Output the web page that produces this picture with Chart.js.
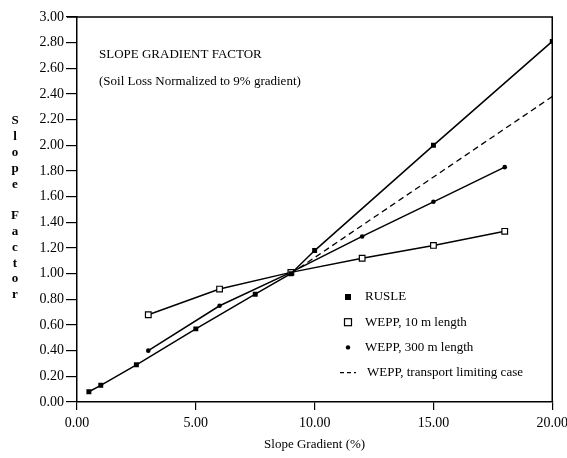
<!DOCTYPE html>
<html><head><meta charset="utf-8">
<script src="https://cdn.jsdelivr.net/npm/chart.js@4"></script>
<style>html,body{margin:0;padding:0;background:#fff;overflow:hidden}#wrap{width:567px;height:458px;position:relative;overflow:hidden}</style>
</head><body><div id="wrap"><canvas id="c" width="573" height="458"></canvas></div>
<script>
const rusleX = [0.5, 1, 2.5, 5, 7.5, 9, 10, 15, 20];
const rusleY = [0.08, 0.13, 0.29, 0.57, 0.84, 1.00, 1.18, 2.00, 2.81];
const wepp10X = [3, 6, 9, 12, 15, 18];
const wepp10Y = [0.68, 0.88, 1.01, 1.12, 1.22, 1.33];
const wepp300X = [3, 6, 9, 12, 15, 18];
const wepp300Y = [0.40, 0.75, 1.01, 1.29, 1.56, 1.83];
const transX = [9, 20];
const transY = [1.00, 2.38];
const xTicks = [0, 5, 10, 15, 20];
const yTicks = [0, 0.2, 0.4, 0.6, 0.8, 1.0, 1.2, 1.4, 1.6, 1.8, 2.0, 2.2, 2.4, 2.6, 2.8, 3.0];
const seriesNames = ['RUSLE', 'WEPP, 10 m length', 'WEPP, 300 m length', 'WEPP, transport limiting case'];
const chartTitle = 'SLOPE GRADIENT FACTOR';
const chartSubtitle = '(Soil Loss Normalized to 9% gradient)';
const xTitle = 'Slope Gradient (%)';
const yTitle = 'Slope Factor';

const FONT = '"Liberation Serif", "Times New Roman", serif';
const pts = (xs, ys) => xs.map((x, i) => ({x: x, y: ys[i]}));

const decor = {
  id: 'decor',
  afterDraw(chart) {
    const ctx = chart.ctx;
    const {left, top, right, bottom} = chart.chartArea;
    ctx.save();
    ctx.strokeStyle = '#000';
    ctx.lineWidth = 1.5;
    ctx.beginPath();
    ctx.moveTo(left - 10, top);
    ctx.lineTo(right, top);
    ctx.lineTo(right, bottom);
    ctx.stroke();
    ctx.fillStyle = '#000';
    ctx.font = '13px ' + FONT;
    ctx.textBaseline = 'middle';
    ctx.textAlign = 'left';
    ctx.fillText(chartTitle, left + 22, top + 38);
    ctx.fillText(chartSubtitle, left + 22, top + 65);
    ctx.textAlign = 'center';
    ctx.font = 'bold 13px ' + FONT;
    const letters = yTitle.split('');
    letters.forEach((ch, i) => {
      if (ch !== ' ') ctx.fillText(ch, 15, 121 + i * 15.8);
    });
    ctx.font = '13px ' + FONT;
    ctx.textAlign = 'left';
    const lx = 348, tx = 365, ly = 297, gap = 25.2;
    seriesNames.forEach((name, i) => {
      const y = ly + i * gap;
      ctx.fillStyle = '#000';
      if (i === 0) {
        ctx.fillRect(lx - 3, y - 3, 6, 6);
      } else if (i === 1) {
        ctx.lineWidth = 1.2;
        ctx.strokeRect(lx - 3.5, y - 3.5, 7, 7);
      } else if (i === 2) {
        ctx.beginPath(); ctx.arc(lx, y, 2.2, 0, Math.PI * 2); ctx.fill();
      } else {
        ctx.lineWidth = 1.2;
        ctx.setLineDash([4, 3]);
        ctx.beginPath(); ctx.moveTo(lx - 8, y); ctx.lineTo(lx + 8, y); ctx.stroke();
        ctx.setLineDash([]);
      }
      ctx.fillText(name, i === 3 ? tx + 2 : tx, y);
    });
    ctx.restore();
  }
};

new Chart(document.getElementById('c'), {
  type: 'scatter',
  data: {
    datasets: [
      {label: seriesNames[0], data: pts(rusleX, rusleY), showLine: true, borderColor: '#000', backgroundColor: '#000', borderWidth: 1.5, pointStyle: 'rect', pointRadius: 3.5, pointBorderWidth: 0, tension: 0},
      {label: seriesNames[1], data: pts(wepp10X, wepp10Y), showLine: true, borderColor: '#000', backgroundColor: '#fff', borderWidth: 1.5, pointStyle: 'rect', pointRadius: 4, pointBorderWidth: 1.2, tension: 0},
      {label: seriesNames[2], data: pts(wepp300X, wepp300Y), showLine: true, borderColor: '#000', backgroundColor: '#000', borderWidth: 1.5, pointStyle: 'circle', pointRadius: 2.3, pointBorderWidth: 0, tension: 0},
      {label: seriesNames[3], data: pts(transX, transY), showLine: true, borderColor: '#000', backgroundColor: '#000', borderWidth: 1.3, borderDash: [6, 4], pointRadius: 0, tension: 0}
    ]
  },
  options: {
    responsive: false,
    animation: false,
    devicePixelRatio: 1,
    layout: {padding: {top: 17, left: 0, right: 0, bottom: 0}},
    plugins: {legend: {display: false}, tooltip: {enabled: false}, title: {display: false}},
    scales: {
      x: {
        type: 'linear', min: 0, max: 20,
        afterBuildTicks: s => { s.ticks = xTicks.map(v => ({value: v})); },
        afterFit: s => { s.height = 56; },
        grid: {display: true, drawOnChartArea: false, drawTicks: true, tickLength: 8, color: '#000', lineWidth: 1.2},
        border: {display: true, color: '#000', width: 1.5},
        ticks: {color: '#000', font: {family: FONT, size: 14}, padding: 5, maxRotation: 0, callback: v => v.toFixed(2)},
        title: {display: true, text: xTitle, color: '#000', font: {family: FONT, size: 13}, padding: {top: 0, bottom: 6}}
      },
      y: {
        type: 'linear', min: 0, max: 3,
        afterBuildTicks: s => { s.ticks = yTicks.map(v => ({value: v})); },
        afterFit: s => { s.width = 77; },
        grid: {display: true, drawOnChartArea: false, drawTicks: true, tickLength: 11, color: '#000', lineWidth: 1.2},
        border: {display: true, color: '#000', width: 1.5},
        ticks: {color: '#000', font: {family: FONT, size: 14}, padding: 2, callback: v => v.toFixed(2)},
        title: {display: false}
      }
    }
  },
  plugins: [decor]
});
</script>
</body></html>
